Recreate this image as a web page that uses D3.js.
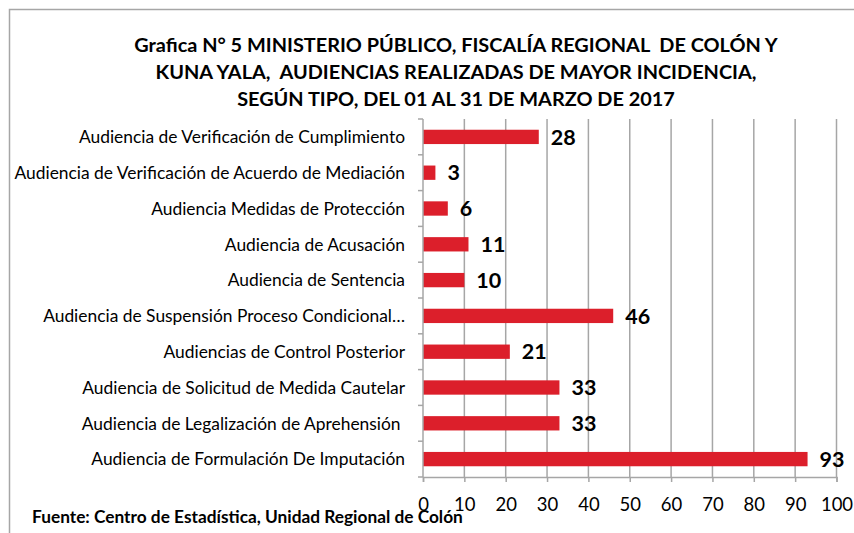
<!DOCTYPE html>
<html>
<head>
<meta charset="utf-8">
<script src="https://cdn.jsdelivr.net/npm/d3@7"></script>
<style>
  html, body { margin: 0; padding: 0; background: #fff; }
  svg { display: block; }
  text { font-family: Lato, "Open Sans", sans-serif; fill: #000; }
</style>
</head>
<body>
<script>
const categories = [
  "Audiencia de Verificación de Cumplimiento",
  "Audiencia de Verificación de Acuerdo de Mediación",
  "Audiencia Medidas de Protección",
  "Audiencia de Acusación",
  "Audiencia de Sentencia",
  "Audiencia de Suspensión Proceso Condicional…",
  "Audiencias de Control Posterior",
  "Audiencia de Solicitud de Medida Cautelar",
  "Audiencia de Legalización de Aprehensión ",
  "Audiencia de Formulación De Imputación"
];
const values = [28, 3, 6, 11, 10, 46, 21, 33, 33, 93];
const xTicks = [0, 10, 20, 30, 40, 50, 60, 70, 80, 90, 100];
const titleLines = [
  "Grafica N° 5 MINISTERIO PÚBLICO, FISCALÍA REGIONAL  DE COLÓN Y",
  "KUNA YALA,  AUDIENCIAS REALIZADAS DE MAYOR INCIDENCIA,",
  "SEGÚN TIPO, DEL 01 AL 31 DE MARZO DE 2017"
];
const sourceText = "Fuente: Centro de Estadística, Unidad Regional de Colón";

const W = 854, H = 533;
const svg = d3.select("body").append("svg").attr("width", W).attr("height", H);

// chart frame (extends past right/bottom edges)
svg.append("path")
  .attr("d", `M9.5,${H + 5} V9.5 H${W + 5}`)
  .attr("fill", "none").attr("stroke", "#a6a6a6").attr("stroke-width", 1.5);

const pLeft = 423, pRight = 836.5, pTop = 119, pBottom = 477;
const x = d3.scaleLinear().domain([0, 100]).range([pLeft, pRight]);
const y = d3.scaleBand().domain(categories).range([pTop, pBottom]).paddingInner(0.6).paddingOuter(0.3);
const yb = d3.scaleBand().domain(categories).range([pTop, pBottom]);

// gridlines
svg.append("g").selectAll("line").data(xTicks.slice(1)).join("line")
  .attr("x1", d => x(d)).attr("x2", d => x(d))
  .attr("y1", pTop).attr("y2", pBottom)
  .attr("stroke", "#a6a6a6").attr("stroke-width", 1.5);

// bars
svg.append("g").selectAll("rect").data(values).join("rect")
  .attr("x", x(0))
  .attr("y", (d, i) => y(categories[i]))
  .attr("width", d => x(d) - x(0))
  .attr("height", y.bandwidth())
  .attr("fill", "#dc1f2b");

// value labels
svg.append("g").selectAll("text").data(values).join("text")
  .attr("x", d => x(d) + 12)
  .attr("y", (d, i) => y(categories[i]) + y.bandwidth() / 2)
  .attr("dy", "0.36em")
  .attr("font-weight", "bold")
  .attr("font-size", 21.5)
  .text(d => d);

// x axis
const xAxis = svg.append("g").attr("transform", `translate(0,${pBottom})`)
  .call(d3.axisBottom(x).tickValues(xTicks).tickSize(5).tickPadding(16));
xAxis.select(".domain").attr("stroke", "#a6a6a6").attr("stroke-width", 1.5);
xAxis.selectAll(".tick line").attr("stroke", "#a6a6a6").attr("stroke-width", 1.5);
xAxis.selectAll(".tick text").attr("font-size", 18.5).attr("font-family", "Lato, sans-serif").attr("fill", "#000");

// y axis line and category ticks at band boundaries
svg.append("line").attr("x1", pLeft).attr("x2", pLeft).attr("y1", pTop).attr("y2", pBottom)
  .attr("stroke", "#a6a6a6").attr("stroke-width", 1.5);
const bounds = categories.map(c => yb(c)).concat([pBottom]);
svg.append("g").selectAll("line").data(bounds).join("line")
  .attr("x1", pLeft - 5).attr("x2", pLeft)
  .attr("y1", d => d).attr("y2", d => d)
  .attr("stroke", "#a6a6a6").attr("stroke-width", 1.5);

// category labels
svg.append("g").selectAll("text").data(categories).join("text")
  .attr("x", 405)
  .attr("y", d => yb(d) + yb.bandwidth() / 2)
  .attr("dy", "0.36em")
  .attr("text-anchor", "end")
  .attr("font-size", 17.4)
  .style("white-space", "pre")
  .text(d => d);

// title
svg.append("g").selectAll("text").data(titleLines).join("text")
  .attr("x", 456)
  .attr("y", (d, i) => 52 + i * 27)
  .attr("text-anchor", "middle")
  .attr("font-weight", "bold")
  .attr("font-size", 19.9)
  .style("white-space", "pre")
  .text(d => d);

// source
svg.append("text")
  .attr("x", 32).attr("y", 523)
  .attr("font-weight", "bold").attr("font-size", 17.3)
  .text(sourceText);
</script>
</body>
</html>
